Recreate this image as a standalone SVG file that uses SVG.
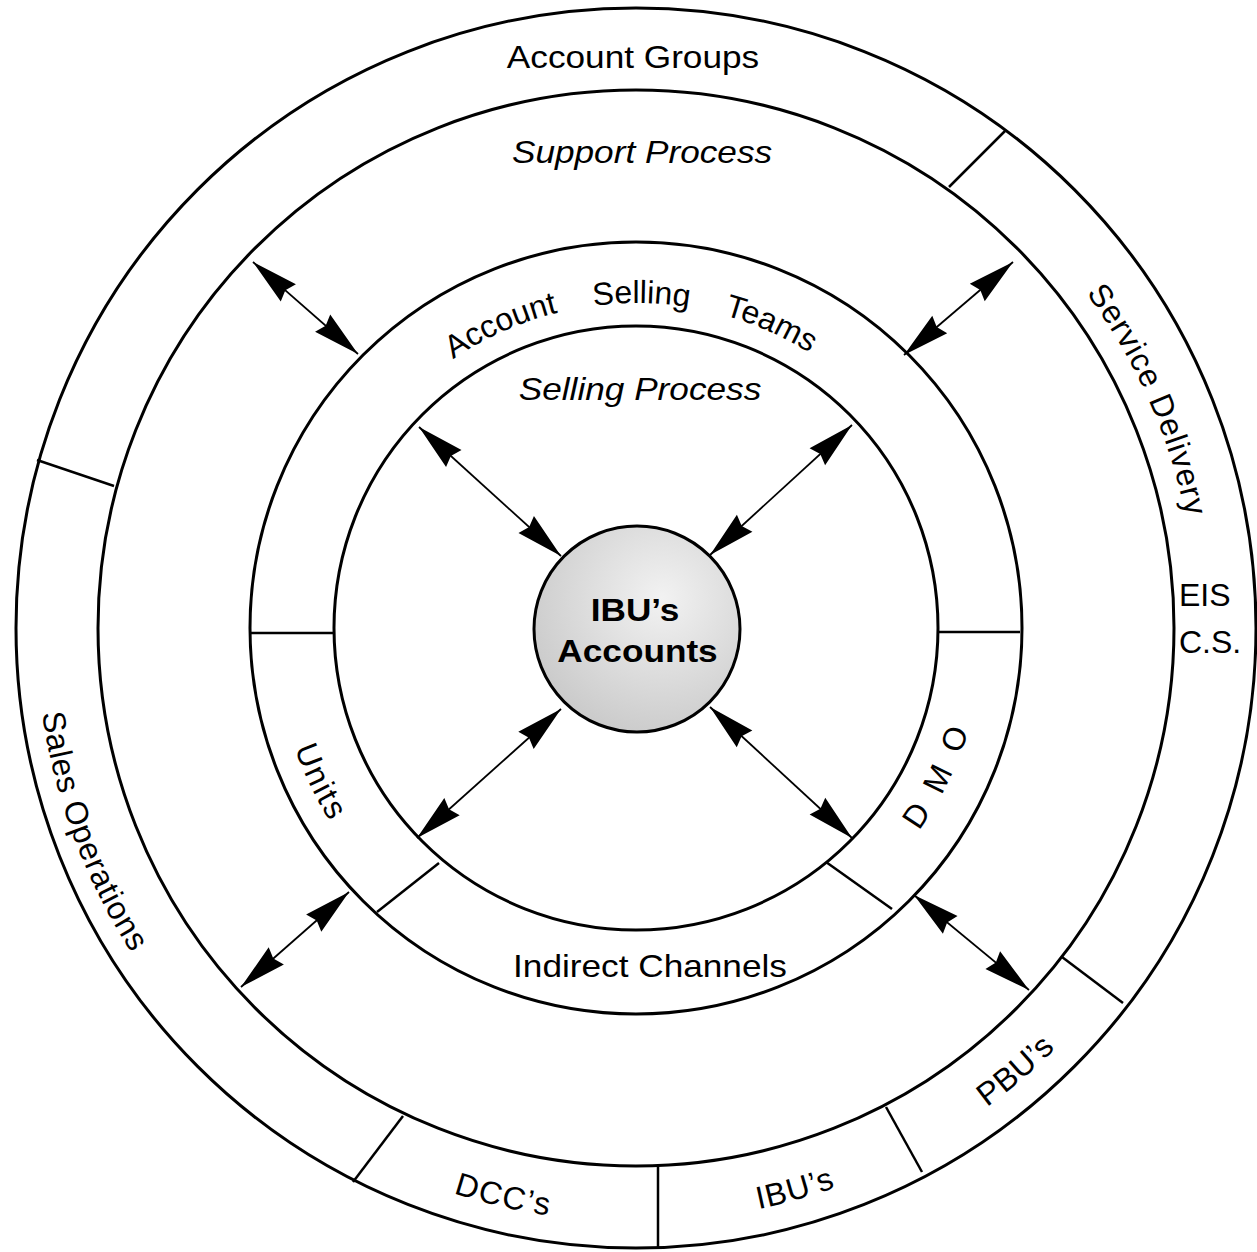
<svg xmlns="http://www.w3.org/2000/svg" width="1257" height="1252" viewBox="0 0 1257 1252">
<style>
.ring{fill:none;stroke:#000;stroke-width:3}
.div{stroke:#000;stroke-width:2.5;fill:none}
.arr{stroke:#000;stroke-width:1.8;fill:none;marker-start:url(#ah);marker-end:url(#ah)}
.t{font-family:"Liberation Sans",Arial,Helvetica,sans-serif;font-size:32px;fill:#000}
.it{font-style:italic}
.b{font-weight:bold}
.mid{text-anchor:middle}
</style>
<defs>
<marker id="ah" markerUnits="userSpaceOnUse" markerWidth="52" markerHeight="30" viewBox="-50 -15 52 30" refX="0" refY="0" orient="auto-start-reverse" overflow="visible">
<path d="M0,0 L-47,-11.5 L-43,0 L-47,11.5 Z" fill="#000"/>
</marker>
<radialGradient id="g" cx="0.62" cy="0.35" r="0.8">
<stop offset="0" stop-color="#f2f2f2"/>
<stop offset="1" stop-color="#c4c4c4"/>
</radialGradient>
<path id="pSD" d="M965.7,174.1 A561,561 0 0 1 1193.9,686.6"/>
<path id="pSO" d="M44.2,529 A600,600 0 0 0 254.3,1091"/>
<path id="pUn" d="M274.9,602.7 A362,362 0 0 0 433.6,928.1"/>
<path id="pDMO" d="M830.6,916.5 A348,348 0 0 0 983.2,603.7"/>
<path id="pDCC" d="M229.6,1061.3 A594,594 0 0 0 808.7,1196.3"/>
<path id="pIBU" d="M490.3,1203.8 A594,594 0 0 0 1061.8,1042.1"/>
<path id="pPBU" d="M745.3,1211.8 A594,594 0 0 0 1196.3,825.3"/>
<path id="pAST" d="M351.8,470.4 A325,325 0 0 1 914.6,460.6"/>
</defs>
<rect width="1257" height="1252" fill="#fff"/>

<g id="outer-ring">
<circle class="ring" cx="636" cy="628" r="620"/>
<line class="div" x1="949" y1="187" x2="1005" y2="131"/>
<line class="div" x1="37" y1="460" x2="114" y2="486"/>
<line class="div" x1="1062" y1="957" x2="1123" y2="1003"/>
<line class="div" x1="886" y1="1107" x2="922" y2="1172"/>
<line class="div" x1="658" y1="1165" x2="658" y2="1247"/>
<line class="div" x1="403" y1="1116" x2="353" y2="1182"/>
</g>
<g id="account-groups"><text class="t mid" transform="translate(633,68) scale(1.1,1)">Account Groups</text></g>
<g id="service-delivery">
<text class="t" letter-spacing="1"><textPath href="#pSD" startOffset="50%" text-anchor="middle">Service Delivery</textPath></text>
<text class="t" x="1179" y="606">EIS</text>
<text class="t" x="1179" y="653">C.S.</text>
</g>
<g id="sales-operations"><text class="t" letter-spacing="0.8"><textPath href="#pSO" startOffset="50%" text-anchor="middle">Sales Operations</textPath></text></g>
<g id="dccs"><text class="t" letter-spacing="1.5"><textPath href="#pDCC" startOffset="50%" text-anchor="middle">DCC’s</textPath></text></g>
<g id="ibus"><text class="t" letter-spacing="1"><textPath href="#pIBU" startOffset="50%" text-anchor="middle">IBU’s</textPath></text></g>
<g id="pbus"><text class="t" letter-spacing="0.5"><textPath href="#pPBU" startOffset="50%" text-anchor="middle">PBU’s</textPath></text></g>

<g id="support-ring">
<circle class="ring" cx="636" cy="628" r="538"/>
<text class="t it mid" transform="translate(642,163) scale(1.1,1)">Support Process</text>
</g>

<g id="account-selling-teams">
<circle class="ring" cx="636" cy="628" r="386"/>
<line class="div" x1="249" y1="633" x2="335" y2="633"/>
<line class="div" x1="937" y1="632" x2="1020" y2="632"/>
<line class="div" x1="439" y1="863" x2="377" y2="912"/>
<line class="div" x1="826" y1="862" x2="892" y2="909"/>
<text class="t" word-spacing="27"><textPath href="#pAST" startOffset="50%" text-anchor="middle">Account Selling Teams</textPath></text>
</g>
<g id="units"><text class="t" letter-spacing="2"><textPath href="#pUn" startOffset="50%" text-anchor="middle">Units</textPath></text></g>
<g id="dmo"><text class="t" letter-spacing="5"><textPath href="#pDMO" startOffset="50%" text-anchor="middle">D M O</textPath></text></g>
<g id="indirect-channels"><text class="t mid" transform="translate(650,977) scale(1.1,1)">Indirect Channels</text></g>

<g id="selling-process">
<circle class="ring" cx="636" cy="628" r="302"/>
<text class="t it mid" transform="translate(640,400) scale(1.1,1)">Selling Process</text>
</g>

<g id="ibus-accounts">
<circle cx="637" cy="629" r="103" fill="url(#g)" stroke="#000" stroke-width="3"/>
<text class="t b mid" transform="translate(635,621) scale(1.1,1)">IBU’s</text>
<text class="t b mid" transform="translate(637.5,662) scale(1.1,1)">Accounts</text>
</g>

<g id="connectors">
<line class="arr" x1="253" y1="262" x2="358" y2="354"/>
<line class="arr" x1="1013" y1="262" x2="904" y2="355"/>
<line class="arr" x1="419" y1="427" x2="561" y2="556"/>
<line class="arr" x1="852" y1="425" x2="710" y2="555"/>
<line class="arr" x1="561" y1="709" x2="417" y2="838"/>
<line class="arr" x1="710" y1="707" x2="852" y2="838"/>
<line class="arr" x1="349" y1="892" x2="241" y2="987"/>
<line class="arr" x1="914" y1="895" x2="1029" y2="990"/>
</g>
</svg>
